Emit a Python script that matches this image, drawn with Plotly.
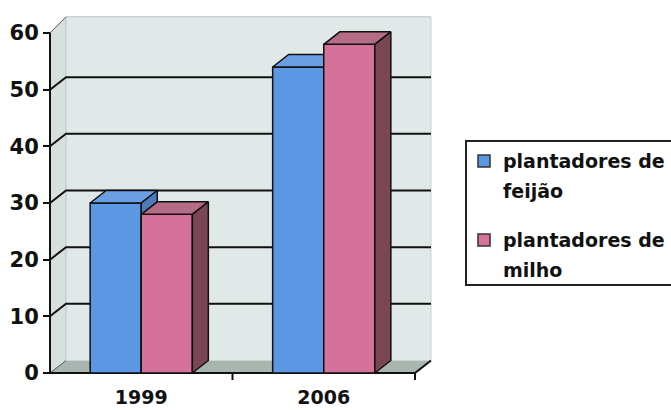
import plotly.graph_objects as go

# ---------------- data ----------------
categories = ["1999", "2006"]
feijao = [30, 54]
milho = [28, 58]
legend_feijao = ["plantadores de", "feijão"]
legend_milho = ["plantadores de", "milho"]
y_ticks = [0, 10, 20, 30, 40, 50, 60]

# ---------------- layout constants (pixels) ----------------
FIG_W, FIG_H = 671, 410
ML, MR, MT, MB = 45, 234, 14, 33
PLOT_W = FIG_W - ML - MR
PLOT_H = FIG_H - MT - MB
X0_PX, PX_PER_CAT = 50.0, 182.5      # pixel of front-left corner, px per category
Y0_PX, PX_PER_UNIT = 373.0, 340.0 / 60.0

x_range = [-0.5 - (X0_PX - ML) / PX_PER_CAT, -0.5 + (ML + PLOT_W - X0_PX) / PX_PER_CAT]
y_range = [-(FIG_H - MB - Y0_PX) / PX_PER_UNIT, (Y0_PX - MT) / PX_PER_UNIT]

DX = 16.0 / PX_PER_CAT        # depth offset in x units
DY = 12.5 / PX_PER_UNIT       # depth offset in y units
BAR_W = 0.28
XL, XR = -0.5, len(categories) - 0.5
YTOP = max(y_ticks)
WALL_TOP = YTOP + DY * 1.3

FONT = "DejaVu Sans"
EDGE = "#111111"

def paper_x(px):
    return (px - ML) / PLOT_W

def paper_y(py):
    return (FIG_H - MB - py) / PLOT_H

fig = go.Figure()

def poly(xs, ys, fill, z, line_color=None, width=0):
    fig.add_trace(go.Scatter(
        x=xs, y=ys, mode="lines", fill="toself", fillcolor=fill,
        line=dict(color=line_color or fill, width=width),
        hoverinfo="skip", showlegend=False, zorder=z))

def line(xs, ys, color, width, z=0):
    fig.add_trace(go.Scatter(
        x=xs, y=ys, mode="lines", line=dict(color=color, width=width),
        hoverinfo="skip", showlegend=False, zorder=z))

# side wall, back wall, floor
poly([XL, XL + DX, XL + DX, XL, XL], [0, DY, WALL_TOP, YTOP, 0], "#d7e0df", 0)
poly([XL + DX, XR + DX, XR + DX, XL + DX, XL + DX], [DY, DY, WALL_TOP, WALL_TOP, DY], "#e1e9e8", 0)
poly([XL, XR, XR + DX, XL + DX, XL], [0, 0, DY, DY, 0], "#a9b6af", 0)

# faint wall edges
line([XL + DX, XL + DX, XR + DX], [DY, WALL_TOP, WALL_TOP], "#b9c6c5", 1)
line([XR + DX, XR + DX], [DY, WALL_TOP], "#c9d3d2", 1)

# gridlines (back wall + side wall diagonals)
gx, gy = [], []
for v in y_ticks:
    if 0 < v < YTOP:
        gx += [XL, XL + DX, XR + DX, None]
        gy += [v, v + DY, v + DY, None]
line(gx, gy, EDGE, 2)
line([XL, XL + DX], [YTOP, WALL_TOP], "#555555", 1)
line([XL, XL + DX], [0, DY], "#555555", 1)

# front axis line and floor front edge
line([XL, XL], [0, YTOP], EDGE, 2)
line([XL, XR, XR + DX], [0, 0, DY], EDGE, 2)

# ---------------- bars ----------------
def bars_3d(values, name, offset, front, top, side, z):
    fig.add_trace(go.Bar(
        x=list(range(len(categories))), y=values, base=0, offset=offset, width=BAR_W,
        marker=dict(color=front, line=dict(color=EDGE, width=1.5)),
        name=name, showlegend=False, zorder=z))
    tx, ty, sx, sy = [], [], [], []
    for i, v in enumerate(values):
        l = i + offset
        r = l + BAR_W
        tx += [l, r, r + DX, l + DX, l, None]
        ty += [v, v, v + DY, v + DY, v, None]
        sx += [r, r + DX, r + DX, r, r, None]
        sy += [0, DY, v + DY, v, 0, None]
    poly(tx, ty, top, z, EDGE, 1.5)
    poly(sx, sy, side, z, EDGE, 1.5)

bars_3d(feijao, " ".join(legend_feijao), -BAR_W, "#5b97e3", "#6a9fe4", "#4f7bbb", 1)
bars_3d(milho, " ".join(legend_milho), 0.0, "#d4729a", "#b56c87", "#7a4653", 2)

# x tick marks at category boundaries
for k in range(1, len(categories) + 1):
    fig.add_shape(type="line", xref="x", yref="paper",
                  x0=XL + k, x1=XL + k, y0=paper_y(Y0_PX), y1=paper_y(Y0_PX + 7),
                  line=dict(color=EDGE, width=2))

# ---------------- manual legend ----------------
fig.add_shape(type="rect", xref="paper", yref="paper",
              x0=paper_x(466), x1=paper_x(690), y0=paper_y(285), y1=paper_y(141),
              line=dict(color="#222222", width=2), fillcolor="white")
entries = [(legend_feijao, "#5b97e3", 161), (legend_milho, "#d4729a", 240)]
for lines_, color, cy in entries:
    fig.add_shape(type="rect", xref="paper", yref="paper",
                  x0=paper_x(478), x1=paper_x(490), y0=paper_y(cy + 6), y1=paper_y(cy - 6),
                  line=dict(color="#333333", width=1.5), fillcolor=color)
    for j, t in enumerate(lines_):
        fig.add_annotation(xref="paper", yref="paper", x=paper_x(501), y=paper_y(cy + 30 * j),
                           text=t, showarrow=False, xanchor="left", yanchor="middle",
                           font=dict(family=FONT, size=19, color="#111111", weight="bold"))

fig.update_layout(
    width=FIG_W, height=FIG_H,
    margin=dict(l=ML, r=MR, t=MT, b=MB, autoexpand=False),
    paper_bgcolor="white", plot_bgcolor="white",
    barmode="overlay", showlegend=False,
    xaxis=dict(range=x_range, tickvals=list(range(len(categories))), ticktext=categories,
               ticks="", showline=False, showgrid=False, zeroline=False,
               ticklabelstandoff=7,
               tickfont=dict(family=FONT, size=19, color="#111111", weight="bold")),
    yaxis=dict(range=y_range, tickvals=y_ticks, ticks="outside", ticklen=7, tickwidth=2,
               tickcolor=EDGE, showline=False, showgrid=False, zeroline=False,
               anchor="free", position=paper_x(X0_PX),
               tickfont=dict(family=FONT, size=21, color="#111111", weight="bold")),
)

fig.write_html("out.html")
